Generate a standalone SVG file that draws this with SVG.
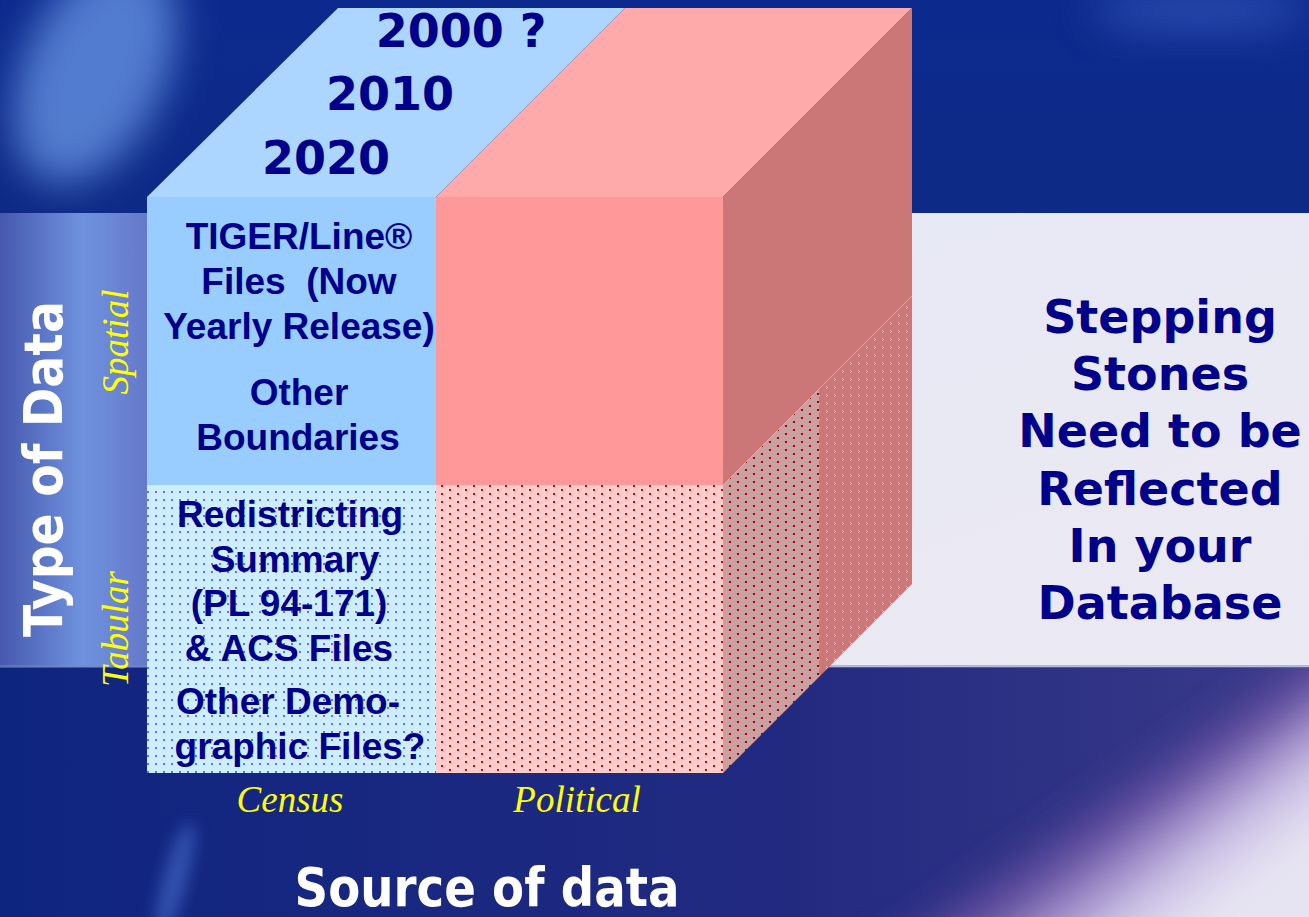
<svg xmlns="http://www.w3.org/2000/svg" width="1309" height="917" viewBox="0 0 1309 917">
<style>
.yr{font-family:"DejaVu Sans",Verdana,sans-serif;font-weight:bold;font-size:46px;fill:#00008b;text-anchor:middle}
.cell{font-family:"Liberation Sans",Arial,sans-serif;font-weight:bold;font-size:37px;fill:#00008b;text-anchor:middle;white-space:pre}
.side{font-family:"DejaVu Sans",Verdana,sans-serif;font-weight:bold;font-size:46px;fill:#00008b;text-anchor:middle}
.ax{font-family:"Liberation Serif","Times New Roman",serif;font-style:italic;font-size:37px;fill:#ffff00;text-anchor:middle}
.title{font-family:"DejaVu Sans",Verdana,sans-serif;font-weight:bold;font-size:53px;fill:#ffffff;text-anchor:middle}
</style>
<defs>
  <linearGradient id="gTop" x1="0" y1="0" x2="0" y2="1">
    <stop offset="0" stop-color="#0c2a8e"/>
    <stop offset="1" stop-color="#0e2a86"/>
  </linearGradient>
  <linearGradient id="gBandL" x1="0" y1="0" x2="1" y2="0">
    <stop offset="0" stop-color="#4658ae"/>
    <stop offset="0.55" stop-color="#6f92de"/>
    <stop offset="1" stop-color="#6478c8"/>
  </linearGradient>
  <linearGradient id="gBandR" x1="0" y1="0" x2="1" y2="1">
    <stop offset="0" stop-color="#e4e8f4"/>
    <stop offset="1" stop-color="#ebe9f3"/>
  </linearGradient>
  <linearGradient id="gBot" x1="0" y1="0" x2="1" y2="0">
    <stop offset="0" stop-color="#0e2580"/>
    <stop offset="0.6" stop-color="#222a80"/>
    <stop offset="1" stop-color="#3a3a8a"/>
  </linearGradient>
  <filter id="blur20" x="-50%" y="-50%" width="200%" height="200%"><feGaussianBlur stdDeviation="20"/></filter>
  <filter id="blur8" x="-50%" y="-50%" width="200%" height="200%"><feGaussianBlur stdDeviation="8"/></filter>
  <clipPath id="clipBot"><rect x="0" y="667" width="1309" height="250"/></clipPath>
  <pattern id="pBlue" width="8" height="8" patternUnits="userSpaceOnUse">
    <rect width="8" height="8" fill="#cceeff"/>
    <rect x="3" y="3" width="2" height="2" fill="#6a6af2"/>
  </pattern>
  <pattern id="pRed" width="16" height="8" patternUnits="userSpaceOnUse">
    <rect width="16" height="8" fill="#ffcccc"/>
    <rect x="1" y="1" width="2" height="2" fill="#d80000"/>
    <rect x="9" y="5" width="2" height="2" fill="#d80000"/>
  </pattern>
  <pattern id="pSideA" width="16" height="8" patternUnits="userSpaceOnUse">
    <rect width="16" height="8" fill="#cba0a0"/>
    <rect x="1" y="1" width="2" height="2" fill="#b00000"/>
    <rect x="9" y="5" width="2" height="2" fill="#b00000"/>
  </pattern>
  <pattern id="pSideB" width="8" height="8" patternUnits="userSpaceOnUse">
    <rect width="8" height="8" fill="#cc7777"/>
    <rect x="2" y="2" width="1" height="1" fill="#eab4b4"/>
    <rect x="3" y="3" width="1" height="1" fill="#eab4b4"/>
    <rect x="2" y="4" width="1" height="1" fill="#eab4b4"/>
  </pattern>
</defs>

<g id="background">
  <rect x="0" y="0" width="1309" height="213" fill="url(#gTop)"/>
  <ellipse cx="95" cy="70" rx="70" ry="120" fill="#6a98e6" opacity="0.75" filter="url(#blur20)" transform="rotate(25 95 70)"/>
  <ellipse cx="1200" cy="10" rx="110" ry="25" fill="#3a5cc0" opacity="0.6" filter="url(#blur20)"/>
  <rect x="0" y="213" width="1309" height="454" fill="url(#gBandR)"/>
  <rect x="0" y="213" width="150" height="454" fill="url(#gBandL)"/>
  <rect x="0" y="667" width="1309" height="250" fill="url(#gBot)"/>
  <g clip-path="url(#clipBot)">
    <polygon points="820,1000 1450,560 1450,1000" fill="#5a4a9a" filter="url(#blur20)"/>
    <polygon points="900,1000 1450,600 1450,1000" fill="#9a86c4" filter="url(#blur20)"/>
    <polygon points="980,1000 1450,640 1450,1000" fill="#cdc4e6" filter="url(#blur20)"/>
    <polygon points="1060,1000 1450,700 1450,1000" fill="#e6e3f2" filter="url(#blur20)"/>
  </g>
  <ellipse cx="175" cy="880" rx="12" ry="60" fill="#4a70d0" opacity="0.6" filter="url(#blur8)" transform="rotate(15 175 880)"/>
  <rect x="0" y="665" width="1309" height="3" fill="#7a88c0" opacity="0.5"/>
</g>

<g id="cube">
  <g id="top-face">
    <polygon points="147,197 436,197 625,8 338,8" fill="#acd6ff"/>
    <polygon points="436,197 723,197 912,8 625,8" fill="#ffaaaa"/>
  </g>
  <g id="right-face">
    <polygon points="723,197 912,8 912,296 723,485" fill="#cc7777"/>
    <polygon points="723,485 819,389 819,677 723,773" fill="url(#pSideA)"/>
    <polygon points="819,389 912,296 912,584 819,677" fill="url(#pSideB)"/>
    <line x1="723" y1="485" x2="912" y2="296" stroke="#eaa0a0" stroke-width="1"/>
  </g>
  <g id="census-spatial">
    <rect x="147" y="197" width="289" height="288" fill="#99ccff"/>
  </g>
  <g id="political-spatial">
    <rect x="436" y="197" width="287" height="288" fill="#ff9999"/>
  </g>
  <g id="census-tabular">
    <rect x="147" y="485" width="289" height="288" fill="url(#pBlue)"/>
  </g>
  <g id="political-tabular">
    <rect x="436" y="485" width="287" height="288" fill="url(#pRed)"/>
  </g>
</g>

<g id="connectors"></g>

<g id="years">
  <text class="yr" x="461" y="47">2000 ?</text>
  <text class="yr" x="390" y="110">2010</text>
  <text class="yr" x="326" y="174">2020</text>
</g>

<g id="spatial-text">
  <text class="cell" x="299" y="249">TIGER/Line®</text>
  <text class="cell" x="299" y="294">Files  (Now</text>
  <text class="cell" x="299" y="339">Yearly Release)</text>
  <text class="cell" x="299" y="405">Other</text>
  <text class="cell" x="298" y="450">Boundaries</text>
</g>

<g id="tabular-text">
  <text class="cell" x="290" y="527">Redistricting</text>
  <text class="cell" x="295" y="572">Summary</text>
  <text class="cell" x="289" y="616">(PL 94-171)</text>
  <text class="cell" x="289" y="661">&amp; ACS Files</text>
  <text class="cell" x="288" y="714">Other Demo-</text>
  <text class="cell" x="300" y="759">graphic Files?</text>
</g>

<g id="axis-labels">
  <text class="ax" transform="translate(128,342) rotate(-90)">Spatial</text>
  <text class="ax" transform="translate(128,629) rotate(-90)">Tabular</text>
  <text class="ax" x="290" y="812">Census</text>
  <text class="ax" x="577" y="812">Political</text>
</g>

<g id="titles">
  <text class="title" transform="translate(62,469) rotate(-90)" textLength="336" lengthAdjust="spacingAndGlyphs">Type of Data</text>
  <text class="title" x="487" y="906" font-size="51" textLength="385" lengthAdjust="spacingAndGlyphs">Source of data</text>
</g>

<g id="stepping-stones">
  <text class="side" x="1160" y="333">Stepping</text>
  <text class="side" x="1160" y="390">Stones</text>
  <text class="side" x="1160" y="447">Need to be</text>
  <text class="side" x="1160" y="505">Reflected</text>
  <text class="side" x="1160" y="562">In your</text>
  <text class="side" x="1160" y="619">Database</text>
</g>
</svg>
